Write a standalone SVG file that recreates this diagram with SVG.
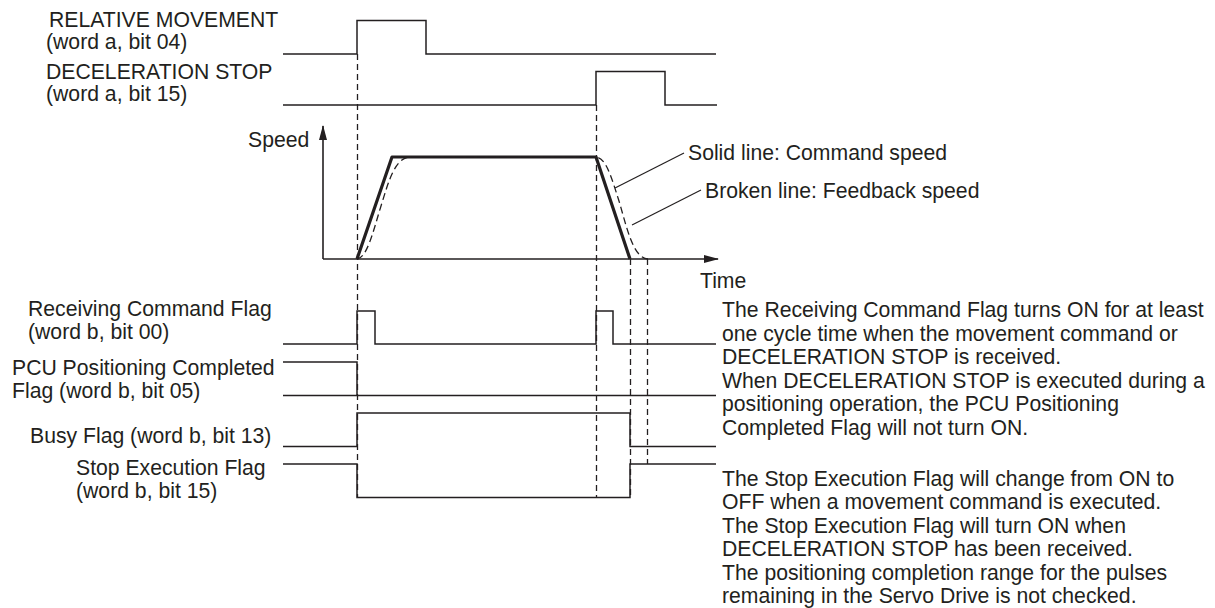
<svg xmlns="http://www.w3.org/2000/svg" width="1215" height="608" viewBox="0 0 1215 608">
<style>
text{font-family:"Liberation Sans",Arial,Helvetica,sans-serif;font-size:21.2px;fill:#231f20}
.sig{fill:none;stroke:#231f20;stroke-width:1.5;stroke-linejoin:miter}
.dash{fill:none;stroke:#231f20;stroke-width:1.3;stroke-dasharray:6 4}
.cmd{fill:none;stroke:#231f20;stroke-width:3.2;stroke-linejoin:round}
.fb{fill:none;stroke:#231f20;stroke-width:1.3;stroke-dasharray:7 4}
.lead{fill:none;stroke:#231f20;stroke-width:1.2}
.axis{fill:none;stroke:#231f20;stroke-width:1.6}
</style>
<defs>
<marker id="arr" viewBox="0 0 15 8" refX="14" refY="4" markerWidth="15" markerHeight="8" markerUnits="userSpaceOnUse" orient="auto">
<path d="M0,0 L15,4 L0,8 Z" fill="#231f20"/>
</marker>
</defs>

<g id="labels-left">
<text x="49" y="27">RELATIVE MOVEMENT</text>
<text x="46" y="49">(word a, bit 04)</text>
<text x="46" y="79">DECELERATION STOP</text>
<text x="46" y="101">(word a, bit 15)</text>
<text x="248" y="147">Speed</text>
<text x="28" y="316">Receiving Command Flag</text>
<text x="28" y="339">(word b, bit 00)</text>
<text x="12" y="375">PCU Positioning Completed</text>
<text x="12" y="398">Flag (word b, bit 05)</text>
<text x="30" y="443">Busy Flag (word b, bit 13)</text>
<text x="76" y="475">Stop Execution Flag</text>
<text x="76" y="498">(word b, bit 15)</text>
</g>

<g id="sig-relative-movement">
<polyline class="sig" points="283,54 357,54 357,20.5 426,20.5 426,54 716,54"/>
</g>
<g id="sig-deceleration-stop">
<polyline class="sig" points="283,105 596,105 596,71.5 665,71.5 665,105 717,105"/>
</g>

<g id="speed-chart">
<line class="axis" x1="323" y1="259" x2="323" y2="126" marker-end="url(#arr)"/>
<line class="axis" x1="323" y1="259" x2="718" y2="259" marker-end="url(#arr)"/>
<polyline class="cmd" points="357,259 392,157 596,157 630,259"/>
<path class="fb" d="M357,259 C367,258 373,232 381,206 C389,180 395,158 410,157 L596,157 C606,158 611,176 619,201 C627,228 633,258 648,259"/>
</g>

<g id="sig-receiving-command">
<polyline class="sig" points="283,344 357,344 357,311 375,311 375,344 596,344 596,311 613,311 613,344 716,344"/>
</g>
<g id="sig-pcu-positioning-completed">
<polyline class="sig" points="283,362 357,362 357,395.5"/>
<line class="sig" x1="283" y1="395.5" x2="716" y2="395.5"/>
</g>
<g id="sig-busy">
<polyline class="sig" points="283,446.5 357,446.5 357,413 630,413 630,446.5 716,446.5"/>
</g>
<g id="sig-stop-execution">
<polyline class="sig" points="283,464 357,464 357,497.5 630,497.5 630,464 716,464"/>
</g>

<g id="connectors">
<line class="dash" x1="357.5" y1="54" x2="357.5" y2="497"/>
<line class="dash" x1="596.5" y1="105" x2="596.5" y2="497"/>
<line class="dash" x1="630.5" y1="259" x2="630.5" y2="497"/>
<line class="dash" x1="647.5" y1="259" x2="647.5" y2="464"/>
<line class="lead" x1="615" y1="188" x2="684" y2="153"/>
<line class="lead" x1="632" y1="225" x2="701" y2="190"/>
</g>

<g id="labels-right">
<text x="688" y="160">Solid line: Command speed</text>
<text x="705" y="198">Broken line: Feedback speed</text>
<text x="700" y="288">Time</text>
<text x="722" y="317">The Receiving Command Flag turns ON for at least</text>
<text x="722" y="340.5">one cycle time when the movement command or</text>
<text x="722" y="364">DECELERATION STOP is received.</text>
<text x="722" y="387.5">When DECELERATION STOP is executed during a</text>
<text x="722" y="411">positioning operation, the PCU Positioning</text>
<text x="722" y="434.5">Completed Flag will not turn ON.</text>
<text x="722" y="485.5">The Stop Execution Flag will change from ON to</text>
<text x="722" y="509">OFF when a movement command is executed.</text>
<text x="722" y="532.5">The Stop Execution Flag will turn ON when</text>
<text x="722" y="556">DECELERATION STOP has been received.</text>
<text x="722" y="579.5">The positioning completion range for the pulses</text>
<text x="722" y="603">remaining in the Servo Drive is not checked.</text>
</g>
</svg>
